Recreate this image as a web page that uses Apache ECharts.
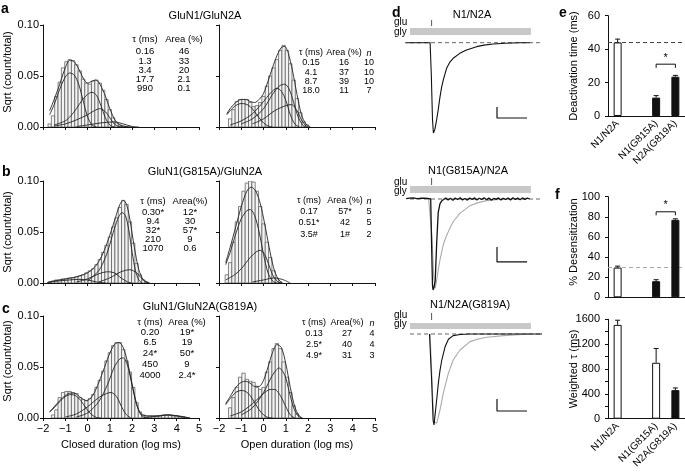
<!DOCTYPE html>
<html><head><meta charset="utf-8">
<script src="https://cdn.jsdelivr.net/npm/echarts@6/dist/echarts.min.js"></script>
<style>html,body{margin:0;padding:0;background:#fff}#c{width:685px;height:474px}</style>
</head><body><div id="c"></div>
<script>
const FONT = '"Liberation Sans", Arial, Helvetica, sans-serif';
const binW = 0.15;

// ---------- Histogram data (x = log10 duration in ms, y = sqrt(count/total)) ----------
const aClosedStart = -1.7;
const aClosedBars = [0.003,0.011,0.03,0.044,0.058,0.064,0.066,0.065,0.061,0.055,0.047,0.043,0.042,0.045,0.046,0.043,0.036,0.027,0.017,0.009,0.004,0.002,0.001,0.0005];
const aClosedTotal = [[-1.7,0.016],[-1.5,0.027],[-1.25,0.042],[-1.0,0.058],[-0.8,0.0655],[-0.6,0.064],[-0.4,0.057],[-0.2,0.048],[0,0.043],[0.2,0.045],[0.35,0.046],[0.5,0.044],[0.75,0.033],[1.0,0.018],[1.25,0.006],[1.5,0.0015],[1.75,0.0003],[2.0,0]];
const aClosedC1 = [[-1.7,0.012],[-1.5,0.022],[-1.25,0.037],[-1.0,0.049],[-0.8,0.053],[-0.6,0.051],[-0.4,0.042],[-0.2,0.026],[0,0.01],[0.2,0.002],[0.4,0]];
const aClosedC2 = [[-1.5,0.002],[-1,0.006],[-0.75,0.011],[-0.5,0.018],[-0.25,0.026],[0,0.032],[0.2,0.034],[0.4,0.031],[0.6,0.021],[0.8,0.009],[1.0,0.002],[1.2,0]];
const aClosedC3 = [[-1.5,0.001],[-1,0.003],[-0.5,0.007],[0,0.012],[0.3,0.016],[0.55,0.018],[0.8,0.015],[1.0,0.009],[1.2,0.003],[1.4,0.0005],[1.6,0]];
const aClosedC4 = [[-0.5,0.0005],[0,0.002],[0.6,0.004],[1.2,0.005],[1.6,0.003],[2.0,0.0005],[2.3,0]];

const aOpenStart = -1.5;
const aOpenBars = [0.008,0.017,0.025,0.027,0.027,0.027,0.024,0.02,0.021,0.024,0.03,0.04,0.05,0.058,0.066,0.075,0.08,0.075,0.062,0.046,0.028,0.014,0.005,0.002];
const aOpenTotal = [[-1.65,0.013],[-1.5,0.018],[-1.25,0.024],[-1.0,0.027],[-0.8,0.027],[-0.6,0.025],[-0.4,0.024],[-0.2,0.027],[0,0.033],[0.2,0.045],[0.4,0.058],[0.6,0.07],[0.8,0.078],[0.95,0.079],[1.1,0.073],[1.3,0.055],[1.5,0.032],[1.7,0.012],[1.9,0.003],[2.1,0]];
const aOpenC1 = [[-1.65,0.012],[-1.5,0.016],[-1.25,0.021],[-1.0,0.023],[-0.8,0.0225],[-0.6,0.02],[-0.4,0.015],[-0.2,0.009],[0,0.004],[0.2,0.001],[0.4,0]];
const aOpenC2 = [[-1.5,0.002],[-1.0,0.006],[-0.5,0.013],[0,0.025],[0.3,0.033],[0.6,0.038],[0.8,0.035],[1.0,0.026],[1.2,0.012],[1.4,0.003],[1.6,0]];
const aOpenC3 = [[-1,0.003],[-0.5,0.008],[0,0.018],[0.4,0.032],[0.7,0.04],[0.95,0.042],[1.15,0.037],[1.35,0.024],[1.55,0.01],[1.75,0.002],[1.9,0]];
const aOpenC4 = [[-0.5,0.003],[0,0.008],[0.5,0.016],[1.0,0.021],[1.25,0.022],[1.5,0.016],[1.7,0.007],[1.9,0.001],[2.0,0]];

const bClosedStart = -1.7;
const bClosedBars = [0.001,0.002,0.003,0.003,0.004,0.004,0.005,0.005,0.006,0.007,0.008,0.01,0.012,0.014,0.018,0.023,0.03,0.037,0.045,0.055,0.064,0.074,0.081,0.077,0.06,0.039,0.019,0.008,0.003,0.001];
const bClosedTotal = [[-1.8,0.0005],[-1.5,0.002],[-1,0.004],[-0.5,0.006],[0,0.01],[0.25,0.014],[0.5,0.021],[0.75,0.032],[1.0,0.047],[1.25,0.064],[1.45,0.077],[1.6,0.081],[1.75,0.077],[1.9,0.062],[2.1,0.035],[2.3,0.013],[2.5,0.003],[2.7,0]];
const bClosedC1 = [[-1.8,0.0005],[-1.3,0.002],[-0.8,0.003],[-0.4,0.0035],[0,0.003],[0.4,0.001],[0.8,0]];
const bClosedC2 = [[-0.5,0.001],[0,0.004],[0.5,0.009],[0.9,0.011],[1.2,0.01],[1.5,0.005],[1.8,0.001],[2,0]];
const bClosedC3 = [[0,0.002],[0.5,0.012],[0.8,0.025],[1.0,0.038],[1.2,0.053],[1.4,0.065],[1.55,0.069],[1.7,0.066],[1.85,0.052],[2.0,0.03],[2.15,0.012],[2.3,0.003],[2.45,0]];
const bClosedC4 = [[0.5,0.001],[1.0,0.005],[1.5,0.011],[1.9,0.013],[2.2,0.01],[2.45,0.004],[2.65,0.001],[2.8,0]];

const bOpenStart = -1.65;
const bOpenBars = [0.008,0.02,0.04,0.06,0.075,0.09,0.098,0.1,0.099,0.09,0.075,0.058,0.04,0.025,0.012,0.004,0.001];
const bOpenTotal = [[-1.7,0.02],[-1.5,0.035],[-1.25,0.055],[-1.0,0.075],[-0.75,0.09],[-0.55,0.094],[-0.35,0.09],[-0.15,0.078],[0.05,0.058],[0.25,0.035],[0.45,0.015],[0.65,0.004],[0.85,0]];
const bOpenC1 = [[-1.7,0.018],[-1.5,0.03],[-1.25,0.048],[-1.0,0.063],[-0.75,0.071],[-0.6,0.072],[-0.4,0.066],[-0.2,0.05],[0,0.028],[0.2,0.01],[0.4,0.002],[0.6,0]];
const bOpenC2 = [[-1.7,0.003],[-1.3,0.008],[-1.0,0.014],[-0.6,0.025],[-0.3,0.031],[-0.15,0.032],[0.05,0.028],[0.25,0.017],[0.45,0.006],[0.65,0.001],[0.8,0]];
const bOpenC3 = [[-0.5,0.001],[0,0.003],[0.5,0.005],[0.9,0.003],[1.2,0]];

const cClosedStart = -1.55;
const cClosedBars = [0.003,0.008,0.02,0.025,0.026,0.026,0.025,0.024,0.02,0.018,0.017,0.019,0.023,0.03,0.037,0.046,0.056,0.064,0.071,0.074,0.074,0.067,0.056,0.045,0.03,0.015,0.006,0.003,0.002,0.002,0.002,0.002,0.002,0.003,0.003,0.003,0.002,0.002,0.001,0.001];
const cClosedTotal = [[-1.7,0.006],[-1.5,0.011],[-1.25,0.017],[-1.0,0.022],[-0.75,0.0245],[-0.55,0.024],[-0.3,0.02],[-0.05,0.017],[0.2,0.021],[0.45,0.032],[0.7,0.046],[0.95,0.061],[1.2,0.072],[1.4,0.074],[1.6,0.069],[1.8,0.054],[2.0,0.033],[2.2,0.014],[2.4,0.004],[2.7,0.002],[3.2,0.002],[3.6,0.003],[4.0,0.002],[4.4,0.0005],[4.6,0]];
const cClosedC1 = [[-1.7,0.006],[-1.5,0.01],[-1.25,0.016],[-1.0,0.021],[-0.75,0.023],[-0.55,0.022],[-0.3,0.017],[-0.05,0.009],[0.2,0.003],[0.4,0.0005],[0.6,0]];
const cClosedC2 = [[-1,0.001],[-0.5,0.004],[0,0.011],[0.5,0.02],[0.85,0.024],[1.05,0.025],[1.3,0.021],[1.55,0.01],[1.75,0.003],[1.95,0]];
const cClosedC3 = [[-0.5,0.001],[0,0.005],[0.5,0.016],[0.9,0.033],[1.2,0.05],[1.45,0.058],[1.6,0.059],[1.8,0.051],[2.0,0.032],[2.2,0.013],[2.4,0.003],[2.6,0]];
const cClosedC4 = [[2.5,0],[3.0,0.0015],[3.6,0.003],[4.1,0.002],[4.6,0]];

const cOpenStart = -1.5;
const cOpenBars = [0.01,0.02,0.03,0.04,0.044,0.038,0.036,0.035,0.03,0.028,0.03,0.045,0.055,0.068,0.073,0.068,0.055,0.04,0.025,0.012,0.004];
const cOpenTotal = [[-1.7,0.014],[-1.5,0.021],[-1.25,0.03],[-1.0,0.035],[-0.8,0.036],[-0.6,0.034],[-0.4,0.031],[-0.2,0.031],[0,0.037],[0.2,0.05],[0.4,0.064],[0.6,0.072],[0.8,0.069],[1.0,0.053],[1.2,0.03],[1.4,0.011],[1.6,0.002],[1.75,0]];
const cOpenC1 = [[-1.7,0.013],[-1.5,0.019],[-1.25,0.025],[-1.0,0.027],[-0.8,0.026],[-0.6,0.022],[-0.4,0.015],[-0.2,0.008],[0,0.003],[0.2,0.0005],[0.4,0]];
const cOpenC2 = [[-1.5,0.002],[-1.0,0.006],[-0.5,0.014],[0,0.024],[0.3,0.028],[0.5,0.028],[0.75,0.022],[1.0,0.011],[1.2,0.003],[1.4,0]];
const cOpenC3 = [[-1.0,0.003],[-0.5,0.01],[0,0.025],[0.4,0.042],[0.7,0.049],[0.95,0.042],[1.15,0.026],[1.35,0.01],[1.55,0.002],[1.7,0]];

// ---------- Fit tables ----------
const aClosedTau = ['0.16','1.3','3.4','17.7','990'];
const aClosedArea = ['46','33','20','2.1','0.1'];
const aOpenTau = ['0.15','4.1','8.7','18.0'];
const aOpenArea = ['16','37','39','11'];
const aOpenN = ['10','10','10','7'];
const bClosedTau = ['0.30*','9.4','32*','210','1070'];
const bClosedArea = ['12*','30','57*','9','0.6'];
const bOpenTau = ['0.17','0.51*','3.5#'];
const bOpenArea = ['57*','42','1#'];
const bOpenN = ['5','5','2'];
const cClosedTau = ['0.20','6.5','24*','450','4000'];
const cClosedArea = ['19*','19','50*','9','2.4*'];
const cOpenTau = ['0.13','2.5*','4.9*'];
const cOpenArea = ['27','40','31'];
const cOpenN = ['4','4','3'];

// ---------- Current traces (time ms, normalized current) ----------
const d1Trace = [[-83,0],[0,0],[4,-0.35],[8,-0.85],[11,-1.0],[16,-0.96],[22,-0.85],[27,-0.745],[33,-0.6],[38,-0.5],[44,-0.413],[55,-0.284],[66,-0.215],[77,-0.173],[99,-0.118],[121,-0.081],[155,-0.044],[180,-0.027],[210,-0.015],[250,-0.006],[299,0],[332,0]];
const d2Black = [[-80,0.005],[-74,-0.01],[-68,0.01],[-62,-0.005],[-56,0.012],[-50,-0.008],[-44,0.004],[-38,-0.012],[-32,0.008],[-26,-0.004],[-20,0.01],[-14,-0.006],[-8,0.006],[-2,-0.003],[2,0],[5,-0.5],[8,-0.95],[10,-1.0],[13,-0.97],[17,-0.9],[22,-0.48],[27,-0.15],[33,-0.05],[39,-0.02],[44,-0.01],[52,0.012],[60,-0.01],[68,0.008],[76,-0.015],[84,0.01],[92,-0.006],[100,0.014],[108,-0.01],[116,0.006],[124,-0.012],[132,0.01],[140,-0.004],[148,0.012],[156,-0.01],[164,0.008],[172,-0.006],[180,0.014],[188,-0.008],[196,0.01],[204,-0.012],[212,0.006],[220,-0.004],[228,0.012],[236,-0.01],[244,0.008],[252,-0.006],[260,0.01],[268,-0.012],[276,0.014],[284,-0.006],[292,0.01],[300,-0.008],[308,0.012],[316,-0.004],[324,0.01],[332,0]];
const d2Gray = [[-5,0],[0,0],[6,-0.4],[12,-0.85],[17,-0.98],[22,-0.89],[27,-0.78],[33,-0.67],[44,-0.5],[55,-0.4],[66,-0.32],[77,-0.25],[100,-0.155],[133,-0.073],[160,-0.04],[189,-0.018],[243,0],[300,0]];
const d3Black = [[-2,0],[0,0],[5,-0.5],[10,-0.95],[13,-1.0],[16,-0.91],[22,-0.72],[27.5,-0.54],[33,-0.4],[39,-0.286],[50,-0.14],[61,-0.058],[77,-0.018],[100,-0.005],[130,0],[373,0]];
const d3Gray = [[0,0],[5,-0.4],[10,-0.8],[15,-0.97],[22,-0.98],[27,-0.92],[33,-0.835],[44,-0.65],[61,-0.43],[77,-0.286],[100,-0.176],[133,-0.084],[160,-0.055],[189,-0.036],[255,-0.015],[333,0]];
const glyOn = -67, glyOff = 336, gluPulse = 5;   // application timing (ms)
const scaleT = 100;                                // time scale bar (ms)

// ---------- Bar charts ----------
const barCats = ['N1/N2A','','N1(G815A)','N2A(G819A)'];
const deactMean = [44, null, 11, 23.5];
const deactErr = [2, null, 1.2, 0.8];
const deactFill = ['#fff', null, '#111', '#111'];
const desensMean = [29.5, null, 16, 77];
const desensErr = [1.5, null, 1.5, 1];
const desensFill = ['#fff', null, '#111', '#111'];
const wtauMean = [1510, null, 900, 460];
const wtauErr = [75, null, 230, 35];
const wtauFill = ['#fff', null, '#fff', '#111'];

// ================= Build =================
const chart = echarts.init(document.getElementById('c'), null, {renderer:'canvas', width:685, height:474});
const grids = [], xAxes = [], yAxes = [], series = [], graphics = [];
const txt = (o) => Object.assign({fontFamily:FONT, fontSize:11, color:'#000'}, o);
const minusFmt = v => v < 0 ? '\u2212' + (-v) : String(v);

function addGrid(g){ grids.push(Object.assign({outerBoundsMode:'none', containLabel:false}, g)); return grids.length - 1; }

function histPanel(left, top, showX, xName, showY, start, bars, curves){
  const g = addGrid({left, top, width:156, height:102});
  xAxes.push({type:'value', gridIndex:g, min:-2, max:5, interval:1,
    axisLine:{onZero:false, lineStyle:{color:'#111', width:1}}, axisTick:{length:3, lineStyle:{color:'#111'}},
    axisLabel:{show:showX, margin:5, formatter:minusFmt, ...txt({fontSize:11})}, splitLine:{show:false},
    name:xName||'', nameLocation:'middle', nameGap:21, nameTextStyle:txt({fontSize:11})});
  yAxes.push({type:'value', gridIndex:g, min:0, max:0.1, interval:0.05,
    axisLine:{show:true, onZero:false, lineStyle:{color:'#111', width:1}}, axisTick:{show:true, length:3, lineStyle:{color:'#111'}},
    axisLabel:{show:showY, margin:4, formatter:v=>v.toFixed(2), ...txt({fontSize:11})}, splitLine:{show:false}});
  series.push({type:'custom', xAxisIndex:g, yAxisIndex:g, silent:true, z:2, clip:true,
    data: bars.map((v,i)=>[start + i*binW, v]),
    renderItem:(p, api)=>{
      const x = api.value(0), h = api.value(1);
      const a = api.coord([x - binW/2, h]), b = api.coord([x + binW/2, 0]);
      return {type:'rect', shape:{x:a[0], y:a[1], width:b[0]-a[0], height:b[1]-a[1]},
        style:{fill:'#f3f3f3', stroke:'#555', lineWidth:0.7}};
    }});
  curves.forEach(c => series.push({type:'line', xAxisIndex:g, yAxisIndex:g, data:c, smooth:0.3, symbol:'none',
    silent:true, z:3, lineStyle:{color:'#222', width:0.9}}));
}

const CL = 43, OL = 219;
histPanel(CL, 25, false, '', true, aClosedStart, aClosedBars, [aClosedTotal,aClosedC1,aClosedC2,aClosedC3,aClosedC4]);
histPanel(OL, 25, false, '', false, aOpenStart, aOpenBars, [aOpenTotal,aOpenC1,aOpenC2,aOpenC3,aOpenC4]);
histPanel(CL, 181, false, '', true, bClosedStart, bClosedBars, [bClosedTotal,bClosedC1,bClosedC2,bClosedC3,bClosedC4]);
histPanel(OL, 181, false, '', false, bOpenStart, bOpenBars, [bOpenTotal,bOpenC1,bOpenC2,bOpenC3]);
histPanel(CL, 316, true, 'Closed duration (log ms)', true, cClosedStart, cClosedBars, [cClosedTotal,cClosedC1,cClosedC2,cClosedC3,cClosedC4]);
histPanel(OL, 316, true, 'Open duration (log ms)', false, cOpenStart, cOpenBars, [cOpenTotal,cOpenC1,cOpenC2,cOpenC3]);

// ---------- traces ----------
function tracePanel(top, height, traces, appY, pulseY, sbY, dashEnd){
  const g = addGrid({left:395, top, width:150, height});
  xAxes.push({type:'value', gridIndex:g, min:-117, max:383, show:false});
  yAxes.push({type:'value', gridIndex:g, min:-1.1, max:0.3, show:false});
  const base = {xAxisIndex:g, yAxisIndex:g, silent:true};
  series.push({...base, type:'custom', z:1, data:[[glyOn, glyOff, appY[0], appY[1]]],
    renderItem:(p, api)=>{
      const a = api.coord([api.value(0), api.value(3)]), b = api.coord([api.value(1), api.value(2)]);
      return {type:'rect', shape:{x:a[0], y:a[1], width:b[0]-a[0], height:b[1]-a[1]}, style:{fill:'#c8c8c8'}};
    }});
  series.push({...base, type:'line', data:[[gluPulse,pulseY[0]],[gluPulse,pulseY[1]]], symbol:'none', lineStyle:{color:'#555', width:1}});
  series.push({...base, type:'line', data:[[glyOn,0],[dashEnd,0]], symbol:'none', z:1, lineStyle:{color:'#666', width:1, type:[4,3]}});
  series.push({...base, type:'line', data:[[223,sbY[0]],[223,sbY[1]],[223+scaleT,sbY[1]]], symbol:'none', lineStyle:{color:'#111', width:1.2}});
  traces.forEach(t => series.push({...base, type:'line', data:t.d, symbol:'none', z:t.z||3,
    lineStyle:{color:t.c, width:t.w||1.1}}));
}
tracePanel(15.6, 126.4, [{d:d1Trace, c:'#111'}], [0.085,0.163], [0.185,0.251], [-0.712,-0.834], 366);
tracePanel(171.7, 127.4, [{d:d2Gray, c:'#aaa', z:3}, {d:d2Black, c:'#111', z:4, w:1.3}], [0.066,0.143], [0.154,0.231], [-0.527,-0.692], 366);
tracePanel(306.7, 127.4, [{d:d3Gray, c:'#aaa', z:3}, {d:d3Black, c:'#111', z:4}], [0.055,0.121], [0.154,0.231], [-0.714,-0.846], 373);

// ---------- bar charts ----------
function barPanel(top, height, ymax, interval, labelEvery, showX, mean, err, fill, refLine, refColor, bracket){
  const g = addGrid({left:608, top, width:77, height});
  xAxes.push({type:'category', gridIndex:g, data:barCats, boundaryGap:true,
    axisLine:{lineStyle:{color:'#111', width:1}}, axisTick:{alignWithLabel:true, length:4, lineStyle:{color:'#111'}},
    axisLabel:{show:showX, interval:0, rotate:45, margin:6, ...txt({fontSize:10})}, splitLine:{show:false}});
  yAxes.push({type:'value', gridIndex:g, min:0, max:ymax, interval,
    axisLine:{show:true, lineStyle:{color:'#111', width:1}}, axisTick:{show:true, length:3, lineStyle:{color:'#111'}},
    axisLabel:{margin:8, formatter:v => (v % labelEvery === 0 ? String(v) : ''), ...txt({fontSize:11})},
    splitLine:{show:false}});
  const base = {xAxisIndex:g, yAxisIndex:g, silent:true};
  series.push({...base, type:'bar', barWidth:8, z:3,
    data: mean.map((v,i)=> v == null ? null : {value:v, itemStyle:{color:fill[i], borderColor:'#111', borderWidth:1}}),
    markLine: refLine == null ? undefined : {silent:true, symbol:'none', label:{show:false},
      lineStyle:{color:refColor, type:[4,3], width:1}, data:[{yAxis:refLine}], z:1}});
  series.push({...base, type:'custom', z:4,
    data: mean.map((v,i)=> v == null ? null : [i, v, err[i]]).filter(d => d),
    renderItem:(p, api)=>{
      const a = api.coord([api.value(0), api.value(1)]), b = api.coord([api.value(0), api.value(1)+api.value(2)]);
      return {type:'group', children:[
        {type:'line', shape:{x1:a[0], y1:a[1], x2:b[0], y2:b[1]}, style:{stroke:'#111', lineWidth:1}},
        {type:'line', shape:{x1:b[0]-2.5, y1:b[1], x2:b[0]+2.5, y2:b[1]}, style:{stroke:'#111', lineWidth:1}}]};
    }});
  if (bracket) series.push({...base, type:'custom', z:5, data:[bracket],
    renderItem:(p, api)=>{
      const a = api.coord([api.value(0), api.value(2)]), b = api.coord([api.value(1), api.value(2)]);
      const a2 = api.coord([api.value(0), api.value(3)]);
      return {type:'group', children:[
        {type:'polyline', shape:{points:[[a[0],a2[1]],[a[0],a[1]],[b[0],b[1]],[b[0],a2[1]]]}, style:{stroke:'#111', lineWidth:1, fill:null}},
        {type:'text', x:(a[0]+b[0])/2, y:a[1]-1, style:{text:'*', font:'11px '+FONT, fill:'#000', align:'center', verticalAlign:'bottom'}}]};
    }});
}
barPanel(15.7, 100.3, 60, 20, 20, true, deactMean, deactErr, deactFill, 44, '#444', [2, 3, 31, 28.8]);
barPanel(196.7, 100.6, 100, 20, 20, false, desensMean, desensErr, desensFill, 29.5, '#aaa', [2, 3, 85, 81.5]);
barPanel(319.3, 99.4, 1600, 200, 400, true, wtauMean, wtauErr, wtauFill, null, null, null);

// ---------- texts ----------
function T(text, x, y, o){ graphics.push({type:'text', x, y, silent:true, rotation:(o&&o.rot)||0,
  style:{text, font:((o&&o.font)||'11px ')+FONT, fill:'#000', align:(o&&o.align)||'center', verticalAlign:'middle'}}); }
const bold = {font:'bold 14px ', align:'left'};
T('a', 1, 9, bold); T('b', 2, 172, bold); T('c', 2, 309, bold);
T('d', 392, 13, bold); T('e', 559, 13, bold); T('f', 555, 195, bold);
T('GluN1/GluN2A', 205, 16); T('GluN1(G815A)/GluN2A', 205, 172); T('GluN1/GluN2A(G819A)', 200, 307);
const rotL = {rot:Math.PI/2};
T('Sqrt (count/total)', 8, 72, rotL); T('Sqrt (count/total)', 8, 232, rotL); T('Sqrt (count/total)', 8, 361, rotL);
T('N1/N2A', 472, 15); T('N1(G815A)/N2A', 468, 171); T('N1/N2A(G819A)', 470, 305);
const small = {font:'10px ', align:'left'};
[[22,32],[182,191],[315,324]].forEach(p => { T('glu', 394, p[0], small); T('gly', 394, p[1], small); });
T('Deactivation time (ms)', 574, 66, rotL); T('% Desensitization', 574, 242, rotL); T('Weighted \u03c4 (ms)', 574, 369, rotL);

function table(cols, xs, headY, rowYs, fs){
  cols.forEach((col, ci) => {
    T(col.h, xs[ci], headY, {font: (col.it ? 'italic ' : '') + fs + 'px '});
    col.v.forEach((v, ri) => T(v, xs[ci], rowYs[ri], {font: fs + 'px '}));
  });
}
table([{h:'\u03c4 (ms)', v:aClosedTau},{h:'Area (%)', v:aClosedArea}], [145,184], 39, [51,61,70,79,88], 9.5);
table([{h:'\u03c4 (ms)', v:aOpenTau},{h:'Area (%)', v:aOpenArea},{h:'n', v:aOpenN, it:true}], [311,344,369], 53, [63,73,82,91], 9);
table([{h:'\u03c4 (ms)', v:bClosedTau},{h:'Area(%)', v:bClosedArea}], [153,190], 201, [212,221,230,239,248], 9.5);
table([{h:'\u03c4 (ms)', v:bOpenTau},{h:'Area (%)', v:bOpenArea},{h:'n', v:bOpenN, it:true}], [309,345,369], 201, [212,223,235], 9);
table([{h:'\u03c4 (ms)', v:cClosedTau},{h:'Area (%)', v:cClosedArea}], [150,187], 322, [332,342,353,364,375], 9.5);
table([{h:'\u03c4 (ms)', v:cOpenTau},{h:'Area(%)', v:cOpenArea},{h:'n', v:cOpenN, it:true}], [314,347,372], 323, [334,345,356], 9);

chart.setOption({animation:false, backgroundColor:'#fff', grid:grids, xAxis:xAxes, yAxis:yAxes, series, graphic:graphics});
</script></body></html>
